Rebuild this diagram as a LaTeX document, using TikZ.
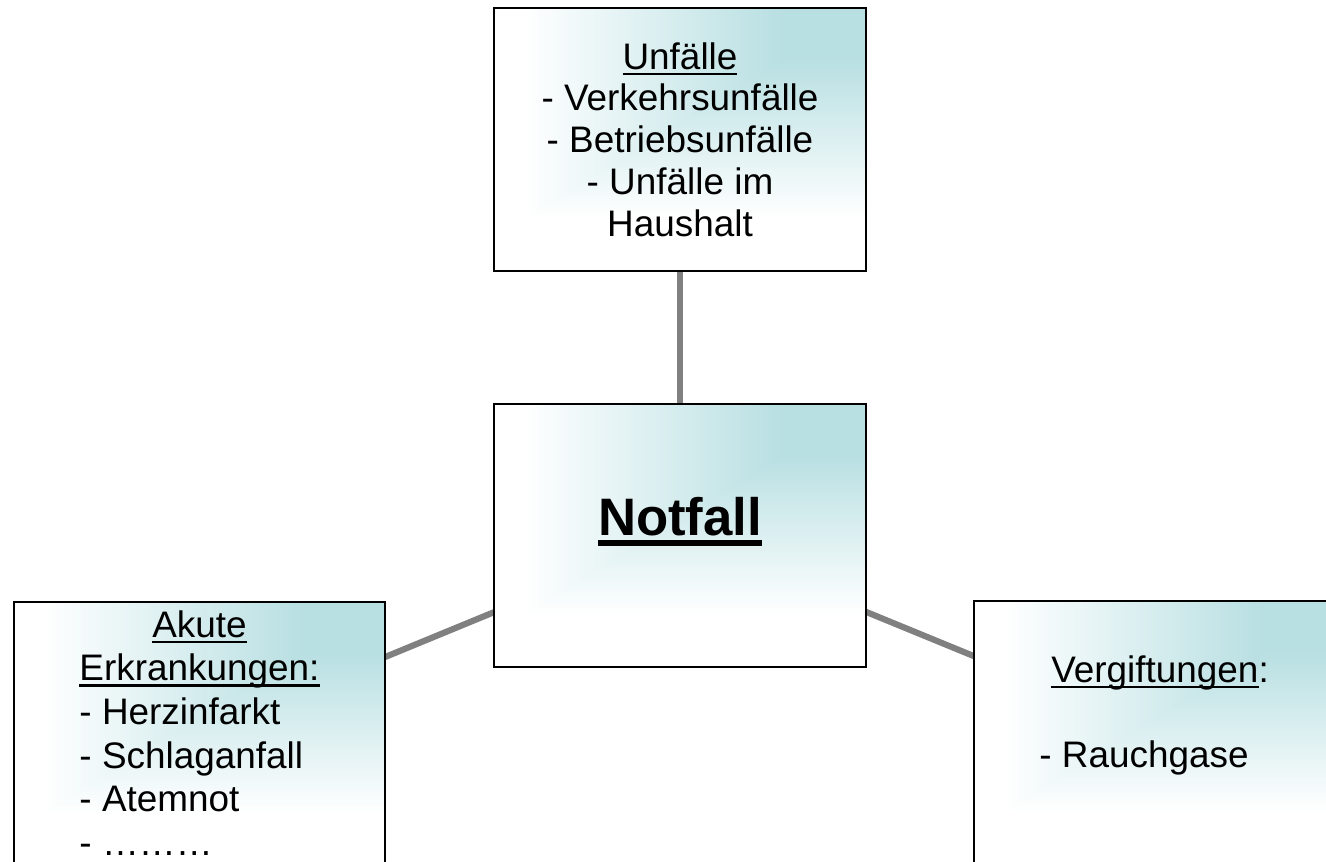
\documentclass[tikz,border=0pt]{standalone}
\usepackage{fontspec}
\setmainfont{Liberation Sans}
\usetikzlibrary{backgrounds}
\definecolor{linie}{RGB}{128,128,128}
\pgfdeclarefunctionalshading{ecke}{\pgfpoint{-50bp}{-50bp}}{\pgfpoint{50bp}{50bp}}{}{
  25 exch sub 50 div 1.15 mul exch 25 exch sub 50 div
  2 copy lt {exch} if pop
  0.92 exch sub 0.7 div
  dup 0 lt {pop 0} if dup 1 gt {pop 1} if
  dup 0.2784 mul 1 exch sub exch dup 0.1255 mul 1 exch sub exch 0.1137 mul 1 exch sub}
\newsavebox{\unterbox}
\newcommand{\untertiefe}{3.4pt}
\newcommand{\unterdicke}{1.4pt}
\newcommand{\unter}[1]{\sbox{\unterbox}{#1}\usebox{\unterbox}\llap{\rule[-\untertiefe]{\wd\unterbox}{\unterdicke}}}

\begin{document}
\begin{tikzpicture}[scale=1,
  kasten/.style={draw=black,line width=1pt,inner sep=0pt,shade,shading=ecke,
    minimum width=\breite cm,minimum height=\hoehe cm},
  verbindung/.style={draw=linie,line width=3.5pt}]
  \pgfmathsetmacro{\breite}{7.43}
  \pgfmathsetmacro{\hoehe}{5.26}
  \useasboundingbox (0,0) rectangle (26.52,-17.22);
  \clip (0,0) rectangle (26.52,-17.22);
  \node[kasten,align=center,font=\fontsize{21}{23.8}\selectfont] (unfaelle) at (13.6,-2.79)
    {\unter{Unfälle}\\ - Verkehrsunfälle\\ - Betriebsunfälle\\ - Unfälle im\\ Haushalt};
  \node[kasten,font=\bfseries\fontsize{30}{36}\selectfont] (notfall) at (13.6,-10.71)
    {\raisebox{0pt}[\height][\height]{\renewcommand{\untertiefe}{6.2pt}\renewcommand{\unterdicke}{3.4pt}\unter{Notfall}}};
  \node[kasten,font=\fontsize{21}{24.85}\selectfont] (akute) at (3.99,-14.67)
    {\raisebox{-2.3pt}[\height][\depth]{\begin{tabular}{@{}l@{}}\multicolumn{1}{@{}c@{}}{\unter{Akute}}\\ \unter{Erkrankungen:}\\ - Herzinfarkt\\ - Schlaganfall\\ - Atemnot\\ - ………\end{tabular}}};
  \node[kasten,align=center,font=\fontsize{21}{24.1}\selectfont] (vergiftung) at (23.2,-14.65)
    {\unter{Vergiftungen}:\\ \\ \hbox{- Rauchgase\hspace{0.64cm}}\\ \mbox{}};
  \begin{scope}[on background layer]
    \draw[verbindung] (notfall.center) -- (unfaelle.center);
    \draw[verbindung] (notfall.center) -- (akute.center);
    \draw[verbindung] (notfall.center) -- (vergiftung.center);
  \end{scope}
\end{tikzpicture}
\end{document}
